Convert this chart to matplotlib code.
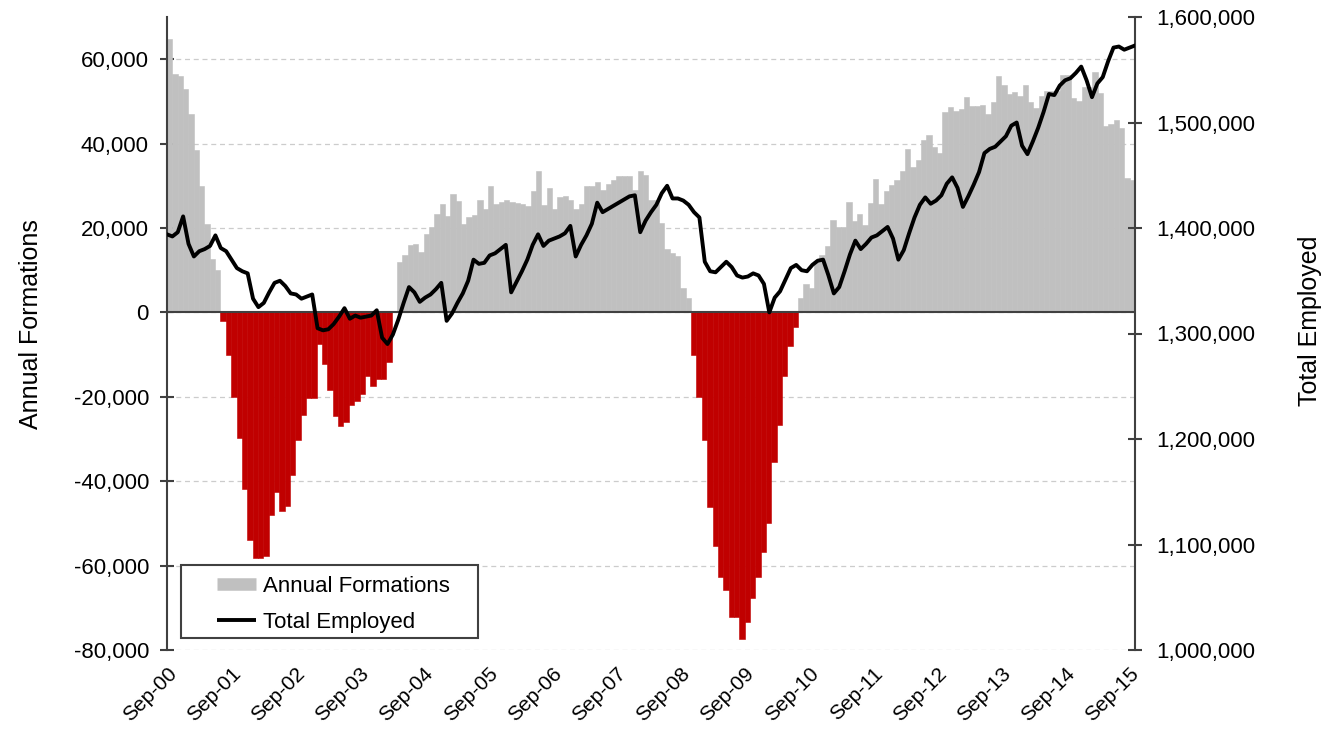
import numpy as np
import matplotlib.pyplot as plt
from matplotlib.lines import Line2D
from matplotlib.patches import Rectangle
from matplotlib.ticker import FuncFormatter

plt.rcParams['font.family'] = ['Liberation Sans', 'DejaVu Sans']

# Monthly data, Sep-00 .. Sep-15
# Annual formations (thousands)
formations_k = [
    64.8, 56.5, 56.0, 53.0, 47.0, 38.4, 29.9, 21.0, 12.6, 10.1,
    -2.0, -10.0, -20.0, -29.7, -41.8, -54.0, -58.3, -58.3, -57.8, -48.0,
    -42.5, -47.0, -45.8, -38.6, -30.2, -24.3, -20.4, -20.2, -7.6, -12.2,
    -18.4, -24.5, -27.0, -26.0, -21.9, -21.0, -19.4, -15.0, -17.4, -15.8,
    -15.8, -11.8, 0.0, 11.9, 13.6, 16.0, 16.1, 14.4, 18.5, 20.2,
    23.4, 25.6, 22.8, 28.1, 26.4, 21.0, 22.7, 23.0, 26.7, 24.6,
    30.0, 25.6, 26.1, 26.6, 26.2, 26.0, 25.7, 25.2, 28.7, 33.6,
    25.4, 29.4, 24.6, 27.4, 27.7, 26.7, 24.6, 25.7, 30.0, 30.0,
    31.0, 29.1, 30.5, 31.3, 32.3, 32.3, 32.3, 29.1, 33.6, 32.6,
    26.6, 26.6, 21.3, 15.1, 14.1, 13.4, 5.9, 3.4, -10.0, -20.1,
    -30.2, -46.0, -55.4, -62.8, -65.7, -72.1, -72.1, -77.3, -73.4, -67.7,
    -62.8, -56.8, -50.0, -35.5, -26.8, -15.0, -7.9, -3.4, 3.5, 6.7,
    5.9, 12.1, 13.6, 15.8, 22.0, 20.3, 20.3, 26.2, 21.7, 23.3,
    20.7, 25.9, 31.5, 25.7, 28.7, 30.3, 31.3, 33.5, 38.7, 34.5,
    36.0, 40.9, 42.0, 39.2, 37.7, 47.6, 48.6, 47.8, 48.1, 51.0,
    48.8, 48.9, 49.1, 47.1, 49.9, 56.0, 54.0, 51.7, 52.2, 51.3,
    53.8, 49.9, 48.4, 51.3, 52.5, 52.5, 52.5, 56.3, 56.2, 50.7,
    50.0, 53.5, 53.5, 57.0, 52.0, 44.1, 44.6, 45.6, 43.6, 31.8,
    31.3,
]

# Total employed (thousands)
employed_k = [
    1394, 1392, 1396, 1411, 1385, 1373, 1378, 1380, 1383, 1393,
    1381, 1378, 1370, 1362, 1359, 1357, 1333, 1325, 1329, 1339,
    1348, 1350, 1345, 1338, 1337, 1333, 1335, 1337, 1305, 1303,
    1304, 1309, 1316, 1324, 1314, 1317, 1315, 1316, 1317, 1322,
    1296, 1290, 1299, 1313, 1329, 1344, 1339, 1330, 1334, 1337,
    1342, 1348, 1312, 1319, 1329, 1338, 1350, 1370, 1366, 1367,
    1374, 1376, 1380, 1384, 1339, 1349, 1359, 1370, 1384, 1394,
    1383, 1388, 1390, 1392, 1395, 1402, 1373, 1384, 1393, 1404,
    1424, 1415, 1418, 1421, 1424, 1427, 1430, 1431, 1396, 1407,
    1415, 1422, 1433, 1440, 1428, 1428, 1426, 1422, 1415, 1410,
    1368, 1359, 1358, 1363, 1368, 1363, 1355, 1353, 1354, 1357,
    1355, 1347, 1320, 1334, 1340, 1351, 1362, 1365, 1360, 1359,
    1365, 1369, 1370, 1355, 1338, 1344, 1359, 1375, 1388, 1380,
    1385, 1391, 1393, 1397, 1401, 1390, 1370, 1379, 1395, 1410,
    1422, 1429, 1423, 1426, 1431, 1442, 1448, 1438, 1420, 1430,
    1441, 1453, 1471, 1475, 1477, 1482, 1487, 1497, 1500, 1478,
    1470, 1482, 1495, 1510, 1527, 1526, 1535, 1540, 1542, 1547,
    1553, 1540, 1524, 1537, 1543, 1558, 1571, 1572, 1569, 1571,
    1573,
]

tick_labels = [f'Sep-{y:02d}' for y in range(0, 16)]

formations = np.array(formations_k) * 1000
employed = np.array(employed_k) * 1000
n = len(formations)

fig = plt.figure(figsize=(13.25, 7.31), dpi=100)
ax = fig.add_axes([167 / 1325, 81 / 731, 968 / 1325, 633 / 731])

# Bars: grey when positive, red when negative
colors = np.where(formations >= 0, '#c0c0c0', '#c00000')
ax.bar(np.arange(n), formations, width=1.0, align='edge', color=colors,
       edgecolor=colors, linewidth=0.4, zorder=2)
ax.axhline(0, color='#404040', linewidth=1.5, zorder=3)

ax.set_xlim(0, n)
ax.set_ylim(-80000, 70000)
ax.set_yticks(np.arange(-80000, 60001, 20000))
ax.yaxis.set_major_formatter(FuncFormatter(lambda v, p: f'{int(v):,}'))
ax.grid(axis='y', linestyle=(0, (4, 3)), color='#cccccc', linewidth=0.9, zorder=0)
ax.set_axisbelow(True)

ax.set_xticks(np.arange(0, n, 12))
ax.set_xticklabels(tick_labels, rotation=45, ha='right', rotation_mode='anchor')
ax.tick_params(axis='x', length=0, pad=10, labelsize=15)
ax.tick_params(axis='y', direction='inout', length=10, width=1.5,
               color='#404040', pad=8, labelsize=16)

for side in ['top', 'bottom', 'right']:
    ax.spines[side].set_visible(False)
ax.spines['left'].set_color('#404040')
ax.spines['left'].set_linewidth(1.5)

ax.set_ylabel('Annual Formations', fontsize=18)
ax.yaxis.set_label_coords(-0.128, 0.515)

# Total employed on the right axis
ax2 = ax.twinx()
line_x = np.linspace(0, n, len(employed))
ax2.plot(line_x, employed, color='black', linewidth=2.8, zorder=4,
         solid_joinstyle='round')
ax2.set_ylim(1000000, 1600000)
ax2.set_yticks(np.arange(1000000, 1600001, 100000))
ax2.yaxis.set_major_formatter(FuncFormatter(lambda v, p: f'{int(v):,}'))
ax2.tick_params(axis='y', direction='inout', length=10, width=1.5,
                color='#404040', pad=10, labelsize=16)
for side in ['top', 'bottom', 'left']:
    ax2.spines[side].set_visible(False)
ax2.spines['right'].set_color('#404040')
ax2.spines['right'].set_linewidth(1.5)
ax2.set_ylabel('Total Employed', fontsize=18, rotation=90)
ax2.yaxis.set_label_coords(1.168, 0.52)

# Legend: white box drawn separately so the entries sit inset like the original
box = Rectangle((0.0145, 0.019), 0.307, 0.115, transform=ax2.transAxes,
                facecolor='white', edgecolor='#404040', linewidth=1.5, zorder=5)
ax2.add_patch(box)
handles = [Line2D([], [], color='#c0c0c0', linewidth=9, solid_capstyle='butt'),
           Line2D([], [], color='black', linewidth=2.8, solid_capstyle='butt')]
leg = ax2.legend(handles, ['Annual Formations', 'Total Employed'],
                 loc='center left', bbox_to_anchor=(0.0517, 0.072),
                 borderaxespad=0, borderpad=0, fontsize=16, frameon=False,
                 handlelength=1.75, handletextpad=0.3, labelspacing=0.7)
leg.set_zorder(6)

plt.savefig('out.png', dpi=100)
plt.close()
